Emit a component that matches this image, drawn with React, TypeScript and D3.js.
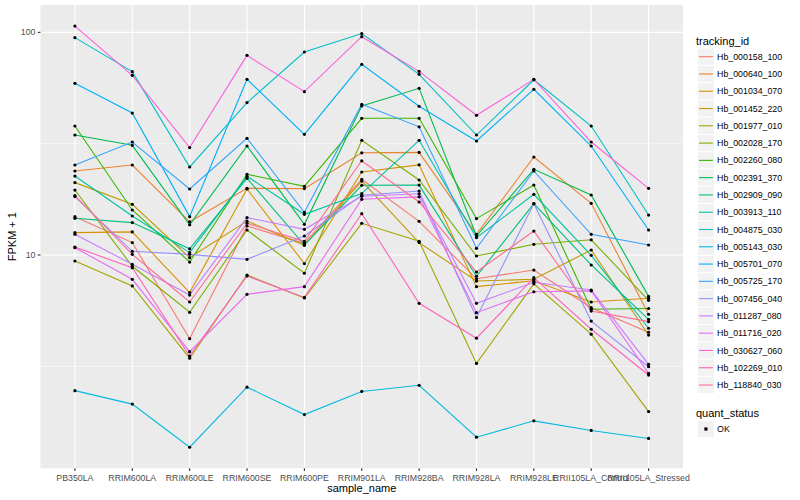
import React from 'react';
import * as d3 from 'd3';

const samples = ['PB350LA', 'RRIM600LA', 'RRIM600LE', 'RRIM600SE', 'RRIM600PE', 'RRIM901LA', 'RRIM928BA', 'RRIM928LA', 'RRIM928LE', 'RRII105LA_Control', 'RRII105LA_Stressed'];

const trackingIds = ['Hb_000158_100', 'Hb_000640_100', 'Hb_001034_070', 'Hb_001452_220', 'Hb_001977_010', 'Hb_002028_170', 'Hb_002260_080', 'Hb_002391_370', 'Hb_002909_090', 'Hb_003913_110', 'Hb_004875_030', 'Hb_005143_030', 'Hb_005701_070', 'Hb_005725_170', 'Hb_007456_040', 'Hb_011287_080', 'Hb_011716_020', 'Hb_030627_060', 'Hb_102269_010', 'Hb_118840_030'];

const colors = ['#F8766D', '#EA8331', '#D89000', '#C09B00', '#A3A500', '#7CAE00', '#39B600', '#00BB4E', '#00BF7D', '#00C1A3', '#00BFC4', '#00BAE0', '#00B0F6', '#35A2FF', '#9590FF', '#C77CFF', '#E76BF3', '#FA62DB', '#FF62BC', '#FF6C91'];

// FPKM + 1 per sample, one array per tracking_id
const hb000158_100 = [14.87, 11.37, 4.21, 13.5, 11.28, 21.87, 14.17, 7.82, 8.56, 5.8, 4.5];
const hb000640_100 = [23.84, 25.36, 14.1, 19.93, 19.87, 28.77, 28.9, 12.39, 27.54, 17.07, 5.42];
const hb001034_070 = [12.6, 12.7, 6.78, 19.8, 9.15, 23.59, 25.4, 7.21, 7.66, 6.15, 6.39];
const hb001452_220 = [21.14, 16.89, 9.73, 14.21, 11.05, 21.49, 11.37, 7.64, 7.78, 10.53, 4.37];
const hb001977_010 = [9.4, 7.26, 3.44, 8.13, 6.41, 13.88, 11.52, 3.26, 7.42, 4.41, 1.98];
const hb002028_170 = [19.58, 8.9, 5.53, 12.95, 8.28, 32.73, 21.72, 9.9, 11.17, 11.7, 6.26];
const hb002260_080 = [37.96, 15.93, 9.3, 23.04, 20.35, 41.1, 41.1, 14.57, 20.62, 5.71, 5.75];
const hb002391_370 = [34.58, 31.09, 13.66, 30.87, 13.73, 46.69, 56.04, 12.17, 24.26, 18.6, 6.52];
const hb002909_090 = [14.62, 13.98, 10.66, 22.1, 11.09, 20.56, 20.6, 8.03, 17.01, 9.02, 5.14];
const hb003913_110 = [22.63, 14.97, 10.25, 22.56, 15.23, 18.87, 32.73, 11.97, 18.73, 9.97, 4.69];
const hb004875_030 = [94.67, 66.6, 24.85, 48.35, 81.6, 98.7, 64.76, 34.58, 61.2, 37.96, 15.12];
const hb005143_030 = [2.46, 2.14, 1.37, 2.55, 1.92, 2.44, 2.6, 1.52, 1.8, 1.63, 1.5];
const hb005701_070 = [59.02, 43.41, 14.87, 61.52, 34.83, 71.83, 46.54, 32.5, 55.47, 30.87, 12.95];
const hb005725_170 = [25.36, 32.17, 19.79, 33.42, 15.55, 47.51, 37.64, 10.72, 23.84, 12.39, 11.09];
const hb007456_040 = [18.3, 10.39, 10.07, 9.56, 12.17, 18.54, 19.38, 5.24, 17.01, 5.05, 3.15];
const hb011287_080 = [12.39, 9.08, 6.61, 14.72, 13.04, 18.35, 18.83, 6.07, 7.54, 6.96, 3.23];
const hb011716_020 = [10.79, 7.78, 3.68, 6.66, 7.21, 17.79, 18.25, 5.51, 6.84, 6.9, 2.94];
const hb030627_060 = [106.7, 64.1, 30.36, 78.8, 54.16, 95.6, 66.8, 42.4, 61.5, 32.17, 19.93];
const hb102269_010 = [10.86, 8.76, 3.52, 8.05, 6.45, 15.34, 6.07, 4.23, 7.91, 4.64, 2.89];
const hb118840_030 = [18.5, 10.07, 6.15, 13.88, 11.52, 26.49, 17.3, 8.39, 12.81, 5.6, 5.02];

const seriesValues = [hb000158_100, hb000640_100, hb001034_070, hb001452_220, hb001977_010, hb002028_170, hb002260_080, hb002391_370, hb002909_090, hb003913_110, hb004875_030, hb005143_030, hb005701_070, hb005725_170, hb007456_040, hb011287_080, hb011716_020, hb030627_060, hb102269_010, hb118840_030];

const yMajor = [10, 100];
const yMinor = [Math.sqrt(10), Math.sqrt(1000)];

const FONT = "'Liberation Sans', Arial, Helvetica, sans-serif";

export default function App() {
  const W = 800, H = 500;
  const pl = 40.5, pr = 683, pt = 5, pb = 468.3;
  const x = d3.scalePoint<string>().domain(samples).range([pl, pr]).padding(0.6);
  const all = seriesValues.flat();
  const lo = Math.log10(d3.min(all) as number);
  const hi = Math.log10(d3.max(all) as number);
  const ex = (hi - lo) * 0.05;
  const y = d3.scaleLog().domain([Math.pow(10, lo - ex), Math.pow(10, hi + ex)]).range([pb, pt]);
  const line = d3.line<number>().x((_, i) => x(samples[i]) as number).y(d => y(d));

  const legX = 697.3, keyW = 17.28, legY0 = 56.7;

  return (
    <svg width={W} height={H} style={{ position: 'absolute', left: 0, top: 0, background: '#fff' }} fontFamily={FONT}>
      <rect x={0} y={0} width={W} height={H} fill="#fff" />
      <rect x={pl} y={pt} width={pr - pl} height={pb - pt} fill="#EBEBEB" />
      {yMinor.map((v, i) => (
        <line key={'ym' + i} x1={pl} x2={pr} y1={y(v)} y2={y(v)} stroke="#fff" strokeWidth={0.55} />
      ))}
      {yMajor.map((v, i) => (
        <line key={'yM' + i} x1={pl} x2={pr} y1={y(v)} y2={y(v)} stroke="#fff" strokeWidth={1.1} />
      ))}
      {samples.map(s => (
        <line key={'xg' + s} x1={x(s)} x2={x(s)} y1={pt} y2={pb} stroke="#fff" strokeWidth={1.1} />
      ))}
      {seriesValues.map((vals, i) => (
        <path key={'l' + i} d={line(vals) || ''} fill="none" stroke={colors[i]} strokeWidth={1.1} />
      ))}
      {seriesValues.map((vals, i) =>
        vals.map((v, j) => (
          <circle key={'p' + i + '-' + j} cx={x(samples[j])} cy={y(v)} r={1.6} fill="#000" />
        ))
      )}
      {/* y axis */}
      {yMajor.map((v, i) => (
        <g key={'yt' + i}>
          <line x1={pl - 2.75} x2={pl} y1={y(v)} y2={y(v)} stroke="#333" strokeWidth={1.1} />
          <text x={pl - 5} y={y(v)} dy="0.35em" textAnchor="end" fontSize={8.8} fill="#4D4D4D">{v}</text>
        </g>
      ))}
      {/* x axis */}
      {samples.map(s => (
        <g key={'xt' + s}>
          <line x1={x(s)} x2={x(s)} y1={pb} y2={pb + 2.75} stroke="#333" strokeWidth={1.1} />
          <text x={x(s)} y={pb + 12.2} textAnchor="middle" fontSize={8.8} fill="#4D4D4D">{s}</text>
        </g>
      ))}
      <text x={(pl + pr) / 2} y={492} textAnchor="middle" fontSize={11} fill="#000">sample_name</text>
      <text transform={`translate(${15.5},${(pt + pb) / 2}) rotate(-90)`} textAnchor="middle" fontSize={11} fill="#000">FPKM + 1</text>
      {/* legend */}
      <text x={696} y={40.7} dy="0.35em" fontSize={11} fill="#000">tracking_id</text>
      {trackingIds.map((id, i) => {
        const cy = legY0 + i * keyW;
        return (
          <g key={'lg' + id}>
            <rect x={legX} y={cy - keyW / 2} width={keyW} height={keyW} fill="#F2F2F2" stroke="#fff" strokeWidth={1} />
            <line x1={legX + 1.7} x2={legX + keyW - 1.7} y1={cy} y2={cy} stroke={colors[i]} strokeWidth={1.1} />
            <text x={legX + keyW + 2.5} y={cy} dy="0.35em" fontSize={8.8} fill="#000">{id}</text>
          </g>
        );
      })}
      <text x={696} y={412.7} dy="0.35em" fontSize={11} fill="#000">quant_status</text>
      <rect x={legX} y={429 - keyW / 2} width={keyW} height={keyW} fill="#F2F2F2" stroke="#fff" strokeWidth={1} />
      <rect x={legX + keyW / 2 - 1.6} y={429 - 1.6} width={3.2} height={3.2} fill="#000" />
      <text x={legX + keyW + 2.5} y={429} dy="0.35em" fontSize={8.8} fill="#000">OK</text>
    </svg>
  );
}
